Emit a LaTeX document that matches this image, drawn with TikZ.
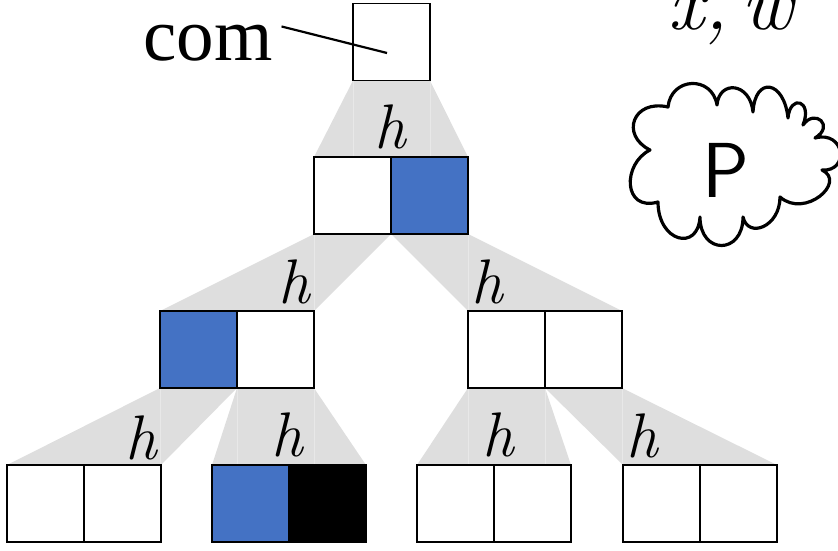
\documentclass[tikz,border=0pt]{standalone}
\usepackage{fontspec}
\newfontfamily\comfont{Liberation Serif}
\usetikzlibrary{backgrounds}
\definecolor{cellblue}{RGB}{68,114,196}
\definecolor{fanfill}{RGB}{222,222,222}
\definecolor{fanseam}{RGB}{232,232,232}
\begin{document}
\begin{tikzpicture}[x=1pt,y=-1pt,
  cell/.style={draw=black, line width=1.3pt, minimum size=77pt, inner sep=0pt, outer sep=0pt, fill=white},
  blue cell/.style={cell, fill=cellblue},
  black cell/.style={cell, fill=black},
  fan/.style={fill=fanfill},
  seam/.style={draw=fanseam, line width=0.8pt},
  hlabel/.style={inner sep=0pt, anchor=base, font=\itshape\fontsize{63}{63}\selectfont},
  cloud/.style={draw=black, line width=3.2pt, line cap=round, line join=round}]

\useasboundingbox (0,0) rectangle (838,551);
\clip (0,0) rectangle (838,551);

% tree of cells
\node[cell] (r) at (391.5,42) {};
\node[cell] (a1) at (352.5,195.5) {};
\node[blue cell] (a2) at (429.5,195.5) {};
\node[blue cell] (b1) at (198.5,349.5) {};
\node[cell] (b2) at (275.5,349.5) {};
\node[cell] (b3) at (506.5,349.5) {};
\node[cell] (b4) at (583.5,349.5) {};
\node[cell] (c1) at (45.5,503.5) {};
\node[cell] (c2) at (122.5,503.5) {};
\node[blue cell] (c3) at (250.5,503.5) {};
\node[black cell] (c4) at (327.5,503.5) {};
\node[cell] (c5) at (455.5,503.5) {};
\node[cell] (c6) at (532.5,503.5) {};
\node[cell] (c7) at (661.5,503.5) {};
\node[cell] (c8) at (738.5,503.5) {};

% hash fans behind the cells
\begin{scope}[on background layer]
  \fill[fan] (r.south west) -- (r.south east) -- (a2.north east) -- (a1.north west) -- cycle;
  \fill[fan] (a1.south west) -- (a1.south east) -- (b2.north east) -- (b1.north west) -- cycle;
  \fill[fan] (a2.south west) -- (a2.south east) -- (b4.north east) -- (b3.north west) -- cycle;
  \fill[fan] (b1.south west) -- (b1.south east) -- (c2.north east) -- (c1.north west) -- cycle;
  \fill[fan] (b2.south west) -- (b2.south east) -- (c4.north east) -- (c3.north west) -- cycle;
  \fill[fan] (b3.south west) -- (b3.south east) -- (c6.north east) -- (c5.north west) -- cycle;
  \fill[fan] (b4.south west) -- (b4.south east) -- (c8.north east) -- (c7.north west) -- cycle;
  \draw[seam] (r.south west) -- (r.south west |- a1.north);
  \draw[seam] (r.south east) -- (r.south east |- a1.north);
  \draw[seam] (a1.south west) -- (a1.south west |- b1.north);
  \draw[seam] (a2.south east) -- (a2.south east |- b3.north);
  \draw[seam] (b1.south west) -- (b1.south west |- c1.north);
  \draw[seam] (b2.south west) -- (b2.south west |- c3.north);
  \draw[seam] (b2.south east) -- (b2.south east |- c3.north);
  \draw[seam] (b3.south west) -- (b3.south west |- c5.north);
  \draw[seam] (b3.south east) -- (b3.south east |- c5.north);
  \draw[seam] (b4.south east) -- (b4.south east |- c7.north);
\end{scope}

% hash labels
\node[hlabel] (h0) at (390,148) {h};
\node[hlabel] (h1) at (294,303) {h};
\node[hlabel] (h2) at (487,303) {h};
\node[hlabel] (h3) at (141,459) {h};
\node[hlabel] (h4) at (287,456) {h};
\node[hlabel] (h5) at (498,456) {h};
\node[hlabel] (h6) at (642,457) {h};

% commitment label
\node[inner sep=0pt, anchor=base west, font=\comfont\fontsize{75}{75}\selectfont] (com) at (143,60) {com};
\coordinate (comtip) at (387,53);
\draw[line width=2.2pt] ([shift={(9,2)}]com.north east) -- (comtip);

% statement and witness
\node[inner sep=0pt, anchor=base west, font=\itshape\fontsize{80}{80}\selectfont] (xw) at (668,30) {x,\,w};

% prover cloud
\draw[cloud] (650,150)
  .. controls +(-30,-15) and +(-35,-8) .. (668,107)
  .. controls +(3,-30) and +(-5,-30) .. (717,105)
  .. controls +(2,-25) and +(-3,-30) .. (753,112)
  .. controls +(2,-36) and +(-4,-38) .. (788,118)
  .. controls +(2,-24) and +(10,-25) .. (803,125)
  .. controls +(12,-17) and +(20,-12) .. (815,138)
  .. controls +(30,-8) and +(28,2) .. (822,170)
  .. controls +(25,12) and +(25,22) .. (780,197)
  .. controls +(0,30) and +(5,22) .. (743,217)
  .. controls +(0,38) and +(0,38) .. (700,217)
  .. controls +(-2,35) and +(0,40) .. (658,202)
  .. controls +(-35,10) and +(-28,14) .. (650,150);
\node[inner sep=0pt, anchor=base, font=\sffamily\fontsize{78}{78}\selectfont] (p) at (726,197) {P};

\end{tikzpicture}
\end{document}
